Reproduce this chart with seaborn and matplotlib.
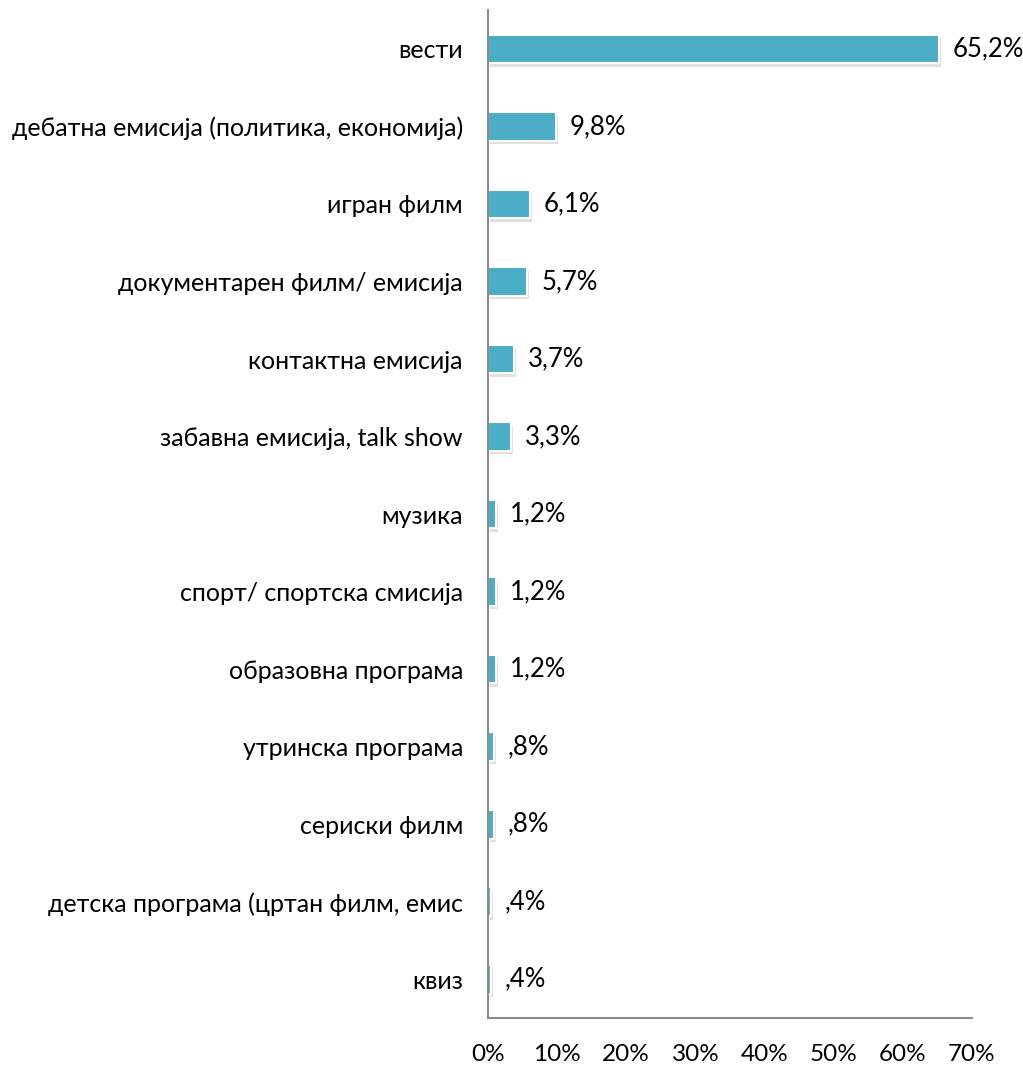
import matplotlib
matplotlib.use("Agg")
import matplotlib.pyplot as plt
import matplotlib.patheffects as pe
import seaborn as sns

categories = ["вести", "дебатна емисија (политика, економија)", "игран филм",
              "документарен филм/ емисија", "контактна емисија",
              "забавна емисија, talk show", "музика", "спорт/ спортска смисија",
              "образовна програма", "утринска програма", "сериски филм",
              "детска програма (цртан филм, емис", "квиз"]
values = [65.2, 9.8, 6.1, 5.7, 3.7, 3.3, 1.2, 1.2, 1.2, 0.8, 0.8, 0.4, 0.4]
labels = ["65,2%", "9,8%", "6,1%", "5,7%", "3,7%", "3,3%", "1,2%", "1,2%",
          "1,2%", ",8%", ",8%", ",4%", ",4%"]
xticks = [0, 10, 20, 30, 40, 50, 60, 70]

sns.set_style("white")
plt.rcParams['font.family'] = ['Lato', 'DejaVu Sans']

fig = plt.figure(figsize=(10.23, 10.66), dpi=100)
ax = fig.add_axes([0.477, 0.045, 0.473, 0.9455])

sns.barplot(x=values, y=categories, orient="h", color="#4BACC6", saturation=1,
            width=0.37, edgecolor="white", linewidth=1.5, ax=ax)
for bar in ax.patches:
    bar.set_path_effects([pe.SimplePatchShadow(offset=(1.5, -2.5), shadow_rgbFace="#9a9a9a", alpha=0.3),
                          pe.Normal()])

for i, (v, lab) in enumerate(zip(values, labels)):
    ax.annotate(lab, (v, i), xytext=(10, 0), textcoords="offset points",
                va="center", ha="left", fontsize=18.5, color="black")

ax.set_xlim(0, 70)
ax.set_xticks(xticks)
ax.set_xticklabels([f"{t}%" for t in xticks])
ax.tick_params(axis="both", length=0, colors="black")
ax.tick_params(axis="x", pad=19, labelsize=17.5)
ax.tick_params(axis="y", pad=18, labelsize=18)
ax.set_xlabel("")
ax.set_ylabel("")
for s in ["top", "right"]:
    ax.spines[s].set_visible(False)
for s in ["left", "bottom"]:
    ax.spines[s].set_color("#8c8c8c")
    ax.spines[s].set_linewidth(1.5)

fig.savefig("out.png", dpi=100)
